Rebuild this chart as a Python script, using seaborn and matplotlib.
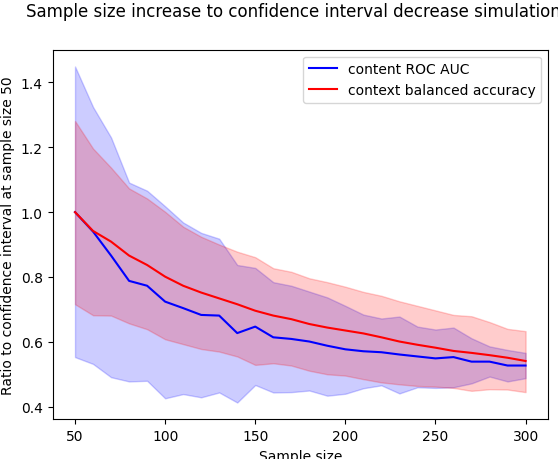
import numpy as np
import pandas as pd
import matplotlib
matplotlib.use('Agg')
import matplotlib.pyplot as plt
import seaborn as sns

sample_sizes = list(range(50, 301, 10))

roc_auc_mean = [1.000, 0.940, 0.866, 0.788, 0.773, 0.724, 0.704, 0.683, 0.681, 0.627,
                0.647, 0.614, 0.609, 0.601, 0.588, 0.577, 0.571, 0.568, 0.561, 0.555,
                0.549, 0.553, 0.539, 0.539, 0.527, 0.527]
roc_auc_upper = [1.449, 1.324, 1.230, 1.091, 1.066, 1.018, 0.968, 0.936, 0.918, 0.837,
                 0.828, 0.784, 0.773, 0.755, 0.737, 0.711, 0.684, 0.672, 0.678, 0.647,
                 0.638, 0.644, 0.611, 0.586, 0.575, 0.566]
roc_auc_lower = [0.553, 0.532, 0.491, 0.478, 0.480, 0.426, 0.439, 0.429, 0.444, 0.413,
                 0.467, 0.444, 0.445, 0.450, 0.434, 0.440, 0.457, 0.466, 0.441, 0.460,
                 0.458, 0.460, 0.472, 0.493, 0.478, 0.488]

bal_acc_mean = [1.000, 0.942, 0.909, 0.866, 0.837, 0.801, 0.773, 0.752, 0.734, 0.716,
                0.696, 0.681, 0.670, 0.655, 0.644, 0.635, 0.626, 0.614, 0.601, 0.591,
                0.582, 0.572, 0.566, 0.559, 0.551, 0.541]
bal_acc_upper = [1.281, 1.196, 1.137, 1.073, 1.042, 1.001, 0.955, 0.924, 0.900, 0.878,
                 0.861, 0.827, 0.816, 0.796, 0.784, 0.770, 0.754, 0.742, 0.725, 0.711,
                 0.697, 0.683, 0.679, 0.661, 0.640, 0.633]
bal_acc_lower = [0.716, 0.682, 0.681, 0.657, 0.639, 0.608, 0.593, 0.578, 0.570, 0.555,
                 0.529, 0.534, 0.527, 0.511, 0.500, 0.496, 0.485, 0.475, 0.469, 0.464,
                 0.462, 0.458, 0.449, 0.454, 0.453, 0.445]

df = pd.DataFrame({'Sample size': sample_sizes,
                   'roc_auc': roc_auc_mean,
                   'bal_acc': bal_acc_mean})

fig = plt.figure(figsize=(5.58, 4.6), dpi=100)
ax = fig.add_axes([52.5 / 558, 39.7 / 460, 495.6 / 558, 369.6 / 460])

ax.fill_between(sample_sizes, roc_auc_lower, roc_auc_upper, color='blue', alpha=0.2)
ax.fill_between(sample_sizes, bal_acc_lower, bal_acc_upper, color='red', alpha=0.2)
sns.lineplot(x='Sample size', y='roc_auc', data=df, color='blue',
             label='content ROC AUC', ax=ax)
sns.lineplot(x='Sample size', y='bal_acc', data=df, color='red',
             label='context balanced accuracy', ax=ax)

ax.set_xlabel('Sample size')
ax.set_ylabel('Ratio to confidence interval at sample size 50')
ax.legend(loc='upper right')
fig.suptitle('Sample size increase to confidence interval decrease simulation',
             x=293 / 558, y=1 - 2.7 / 460)

plt.savefig('out.png', dpi=100)
